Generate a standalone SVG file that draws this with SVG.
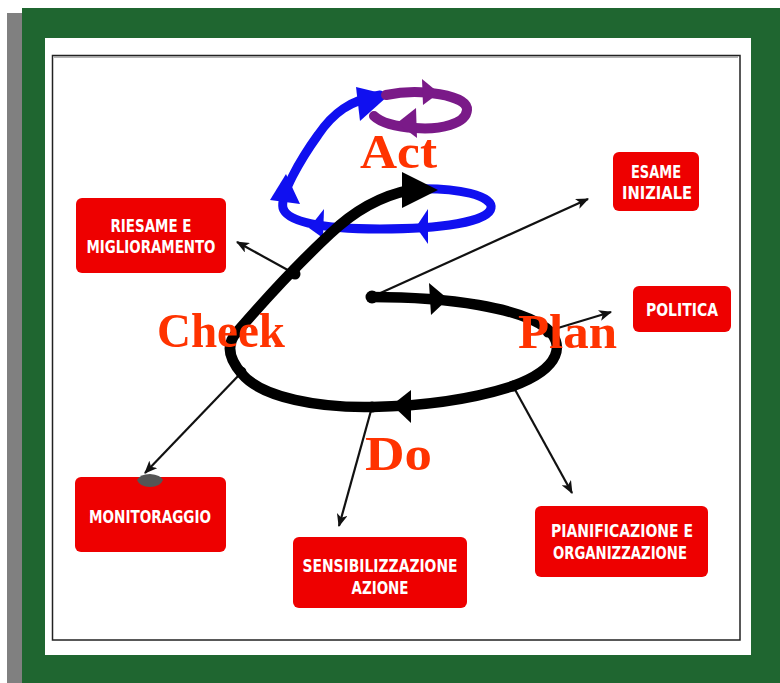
<svg xmlns="http://www.w3.org/2000/svg" width="780" height="683" viewBox="0 0 780 683">
<defs>
<style>
.box{fill:#ee0000;}
.bt{fill:#fff;font-family:"DejaVu Sans","Liberation Sans",sans-serif;font-weight:bold;font-size:18px;text-anchor:middle;}
.lbl{fill:#ff3300;font-family:"Liberation Serif","DejaVu Serif",serif;font-weight:bold;font-size:49px;}
.thin{stroke:#111;stroke-width:2.2;fill:none;marker-end:url(#ah);}
.thick{stroke:#000;stroke-width:10.5;fill:none;stroke-linecap:round;}
.blue{stroke:#1010f0;stroke-width:9;fill:none;stroke-linecap:round;}
.purple{stroke:#7a1a88;stroke-width:10;fill:none;stroke-linecap:round;}
</style>
<marker id="ah" viewBox="0 0 12 10" refX="11" refY="5" markerWidth="13" markerHeight="11" markerUnits="userSpaceOnUse" orient="auto">
<path d="M0,0 L12,5 L0,10 L3,5 Z" fill="#111"/>
</marker>
</defs>
<rect x="0" y="0" width="780" height="683" fill="#fff"/>
<rect x="7" y="13" width="15" height="670" fill="#808080"/>
<rect x="22" y="8" width="758" height="675" fill="#1f6630"/>
<rect x="45" y="38" width="706" height="617" fill="#fff"/>
<rect x="52.5" y="55.5" width="687.5" height="584.5" fill="#fff" stroke="#222" stroke-width="1.5"/>
<line x1="54" y1="57" x2="738" y2="57" stroke="#999" stroke-width="1.5"/>

<g id="loops">
<path class="blue" d="M410,189 C460,187 493,196 491,208 C489,222 440,229 380,229 C320,229 287,222 283,208 C280,195 300,160 318,135 C333,113 350,100 380,95"/>
<polygon fill="#1010f0" points="356,87 389,95 360,121"/>
<polygon fill="#1010f0" points="286,174 270,200 300,204"/>
<polygon fill="#1010f0" points="309,228 324,209 323,238"/>
<polygon fill="#1010f0" points="416,227 428,209 428,244"/>
<path class="purple" d="M386,95 C420,88 468,95 467,110 C466,124 440,130 415,128 C395,127 380,122 374,116"/>
<polygon fill="#7a1a88" points="422,79 439,93 423,105"/>
<polygon fill="#7a1a88" points="416,108 397,123 417,138"/>
</g>

<g id="connectors">
<path class="thin" d="M376,295 L588,199"/>
<path class="thin" d="M548,331 L611,312"/>
<path class="thin" d="M513,386 L572,493"/>
<path class="thin" d="M372,407 L339,526"/>
<path class="thin" d="M240,374 L145,473"/>
<path class="thin" d="M295,274 L237,242"/>
</g>

<g id="spiral">
<path class="thick" d="M372,297 C450,297 520,308 546,328 C565,343 562,368 513,386 C470,400 420,406 372,407 C320,408 262,398 242,374 C228,358 226,344 237,332 C262,303 300,262 330,234 C355,210 380,196 410,190"/>
<polygon fill="#000" points="429,283 448,299 431,315"/>
<polygon fill="#000" points="411,390 392,405 411,423"/>
<polygon fill="#000" points="402,172 438,190 402,208"/>
<circle cx="372" cy="297" r="6.5" fill="#000"/>
<circle cx="548" cy="332" r="5.5" fill="#000"/>
<circle cx="513" cy="386" r="5.5" fill="#000"/>
<circle cx="372" cy="407" r="5.5" fill="#000"/>
<circle cx="241" cy="372" r="5.5" fill="#000"/>
<circle cx="295" cy="274" r="5.5" fill="#000"/>
</g>

<g id="riesame">
<rect class="box" x="76" y="198" width="150" height="75" rx="6"/>
<text class="bt" x="151" y="232" textLength="81" lengthAdjust="spacingAndGlyphs">RIESAME E</text>
<text class="bt" x="151" y="253" textLength="129" lengthAdjust="spacingAndGlyphs">MIGLIORAMENTO</text>
</g>
<g id="esame">
<rect class="box" x="613" y="152" width="86" height="59" rx="6"/>
<text class="bt" x="656" y="178" textLength="50" lengthAdjust="spacingAndGlyphs">ESAME</text>
<text class="bt" x="657" y="199" textLength="70" lengthAdjust="spacingAndGlyphs">INIZIALE</text>
</g>
<g id="politica">
<rect class="box" x="633" y="286" width="98" height="46" rx="6"/>
<text class="bt" x="682" y="316" textLength="72" lengthAdjust="spacingAndGlyphs">POLITICA</text>
</g>
<g id="monitoraggio">
<rect class="box" x="75" y="477" width="151" height="75" rx="6"/>
<path d="M137,480 Q140,474 150,474 Q161,475 163,480 Q160,487 150,487 Q140,487 137,480 Z" fill="#555"/>
<text class="bt" x="150" y="523" textLength="122" lengthAdjust="spacingAndGlyphs">MONITORAGGIO</text>
</g>
<g id="sensibilizzazione">
<rect class="box" x="293" y="537" width="174" height="71" rx="6"/>
<text class="bt" x="380" y="572" textLength="155" lengthAdjust="spacingAndGlyphs">SENSIBILIZZAZIONE</text>
<text class="bt" x="380" y="594" textLength="57" lengthAdjust="spacingAndGlyphs">AZIONE</text>
</g>
<g id="pianificazione">
<rect class="box" x="535" y="506" width="173" height="71" rx="6"/>
<text class="bt" x="622" y="537" textLength="142" lengthAdjust="spacingAndGlyphs">PIANIFICAZIONE E</text>
<text class="bt" x="620" y="559" textLength="134" lengthAdjust="spacingAndGlyphs">ORGANIZZAZIONE</text>
</g>

<g id="labels">
<text class="lbl" x="360" y="168" textLength="77" lengthAdjust="spacingAndGlyphs">Act</text>
<text class="lbl" x="157" y="347" textLength="128" lengthAdjust="spacingAndGlyphs">Cheek</text>
<text class="lbl" x="518" y="348" textLength="99" lengthAdjust="spacingAndGlyphs">Plan</text>
<text class="lbl" x="365" y="470" textLength="67" lengthAdjust="spacingAndGlyphs">Do</text>
</g>
</svg>
